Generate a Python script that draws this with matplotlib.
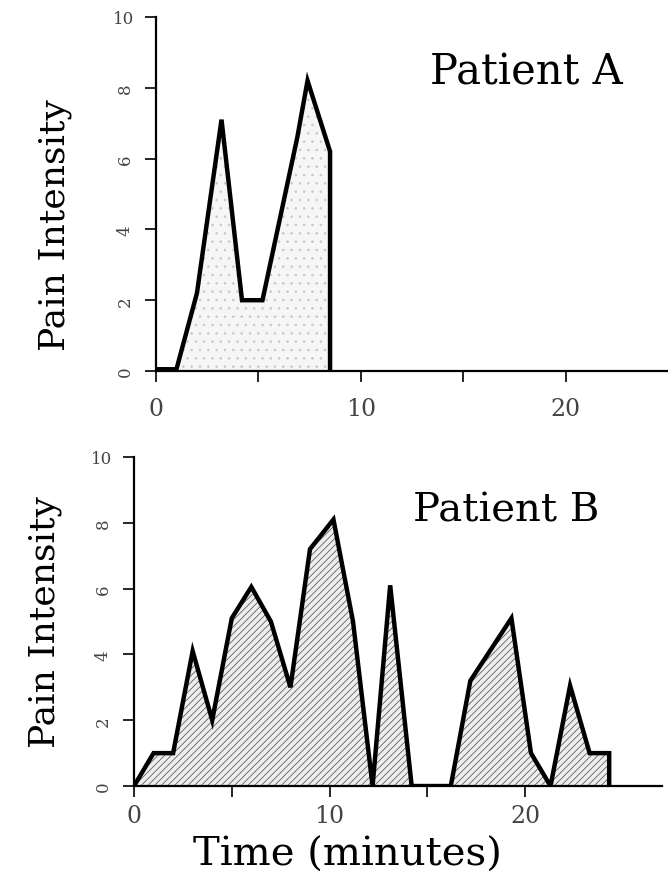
import numpy as np
import matplotlib
matplotlib.use('Agg')
from matplotlib import pyplot as plt

plt.rcParams['font.family'] = ['Liberation Serif', 'DejaVu Serif']
plt.rcParams['hatch.color'] = '#555555'
plt.rcParams['hatch.linewidth'] = 0.6

# patient A
time_a = [0, 1, 2, 3.2, 4.2, 5.2, 6.9, 7.4, 8.5, 8.5]
pain_a = [0.05, 0.05, 2.2, 7.1, 2.0, 2.0, 6.6, 8.2, 6.2, 0]

# patient B
time_b = [0, 1, 2, 3, 4, 5, 6, 7, 8, 9, 10.2, 11.2, 12.2, 13.1, 14.2, 16.2,
          17.2, 19.3, 20.3, 21.3, 22.3, 23.3, 24.3, 24.3]
pain_b = [0, 1, 1, 4.1, 2, 5.1, 6.05, 5, 3, 7.2, 8.1, 5, 0, 6.1, 0, 0,
          3.2, 5.1, 1, 0, 3.05, 1, 1, 0]

yticks = [0, 2, 4, 6, 8, 10]
xticks_major = [0, 10, 20]
xticks_minor = [5, 15]

big = 'DejaVu Serif'

fig = plt.figure(figsize=(6.68, 8.78), dpi=100)
ax1 = fig.add_axes([0.2335, 0.5763, 0.7665, 0.4032])
ax2 = fig.add_axes([0.2006, 0.1036, 0.7904, 0.3748])


def style(ax, xmax, xpad):
    ax.set_xlim(0, xmax)
    ax.set_ylim(0, 10)
    ax.spines['top'].set_visible(False)
    ax.spines['right'].set_visible(False)
    ax.spines['left'].set_linewidth(1.6)
    ax.spines['bottom'].set_linewidth(1.6)
    ax.set_yticks(yticks)
    ax.set_yticklabels([str(v) for v in yticks], fontsize=12, color='#444444', family=big)
    for lab, v in zip(ax.get_yticklabels(), yticks):
        if v < 10:
            lab.set_rotation(90)
            lab.set_va('center')
    ax.set_xticks(xticks_major)
    ax.set_xticks(xticks_minor, minor=True)
    ax.set_xticklabels([str(v) for v in xticks_major], fontsize=17, color='#444444', family=big)
    ax.tick_params(axis='both', which='both', direction='out', length=8, width=1.2)
    ax.tick_params(axis='x', pad=xpad)
    ax.tick_params(axis='y', pad=8)
    ax.set_ylabel('Pain Intensity', fontsize=26, family=big, va='center')


ax1.fill_between(time_a, pain_a, 0, facecolor='#f6f6f6', hatch='..', edgecolor='#c8c8c8', linewidth=0)
ax1.plot(time_a, pain_a, color='black', lw=3.2, solid_joinstyle='miter')
style(ax1, 25, 11)
ax1.yaxis.set_label_coords(-0.197, 0.415)
fig.text(0.6437, 0.9032, 'Patient A', fontsize=30, family=big, va='baseline')

ax2.fill_between(time_b, pain_b, 0, facecolor='#eeeeee', hatch='/////', edgecolor='#606060', linewidth=0)
ax2.plot(time_b, pain_b, color='black', lw=3.2, solid_joinstyle='miter')
style(ax2, 27, 5)
ax2.yaxis.set_label_coords(-0.169, 0.5)
fig.text(0.6183, 0.4055, 'Patient B', fontsize=29, family=big, va='baseline')
ax2.set_xlabel('Time (minutes)', fontsize=29, family=big, va='center')
ax2.xaxis.set_label_coords(0.405, -0.207)

fig.savefig('out.png', dpi=100)
